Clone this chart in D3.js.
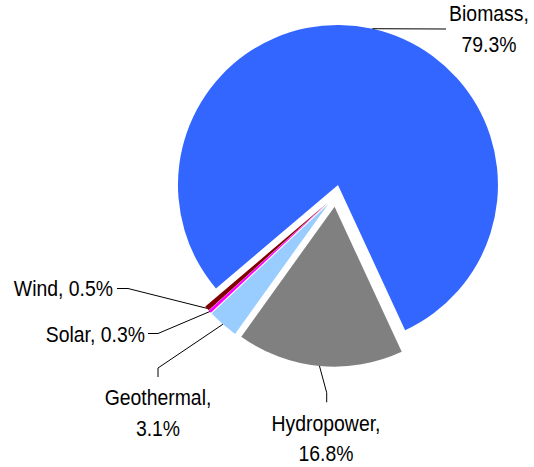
<!DOCTYPE html>
<html>
<head>
<meta charset="utf-8">
<script src="https://cdn.jsdelivr.net/npm/d3@7"></script>
<style>
  html, body { margin: 0; padding: 0; background: #fff; }
  svg { display: block; }
  text { font-family: "Liberation Sans", Arial, sans-serif; font-size: 19.4px; fill: #000; }
</style>
</head>
<body>
<svg id="chart" width="534" height="467"></svg>
<script>
// ---- data ----
const categories = ["Biomass", "Hydropower", "Geothermal", "Solar", "Wind"];
const shares = [79.3, 16.8, 3.1, 0.3, 0.5];
const valueLabels = ["79.3%", "16.8%", "3.1%", "0.3%", "0.5%"];

// ---- styles / layout (not data) ----
const colors = ["#3366FF", "#808080", "#99CCFF", "#FF00FF", "#800000"];
const cx = 335.6, cy = 195.7, R = 160, explode = 11;
const startDeg = 229.7;
const textStretchY = 1.14;

// label layout: leader path points after the arc point, text anchor, baselines
const layout = [
  { pts: [[446, 29]], anchor: "middle", x: 489, ys: [21, 52] },
  { pts: [[326.7, 392.7], [326.7, 402.3]], anchor: "middle", x: 326, ys: [431, 460.5] },
  { pts: [[158, 368], [158, 377]], anchor: "middle", x: 158, ys: [405, 436] },
  { pts: [[158, 333.5], [148, 333.5]], anchor: "end", x: 145, single: true, y: 342 },
  { pts: [[128, 288.5], [117, 288.5]], anchor: "end", x: 113, single: true, y: 296 }
];

const svg = d3.select("#chart");
const data = categories.map((c, i) => ({ name: c, value: shares[i], label: valueLabels[i], i }));

const pie = d3.pie().sort(null).value(d => d.value)
  .startAngle(startDeg * Math.PI / 180)
  .endAngle(startDeg * Math.PI / 180 + 2 * Math.PI);
const arcs = pie(data);
const arcGen = d3.arc().innerRadius(0).outerRadius(R);

function offset(a) {
  const m = (a.startAngle + a.endAngle) / 2;
  return [explode * Math.sin(m), -explode * Math.cos(m)];
}

const g = svg.append("g").attr("transform", `translate(${cx},${cy})`);
g.selectAll("path.slice").data(arcs).enter().append("path")
  .attr("class", "slice")
  .attr("d", arcGen)
  .attr("fill", (d, i) => colors[i])
  .attr("transform", d => { const o = offset(d); return `translate(${o[0]},${o[1]})`; });

// leader lines
arcs.forEach((a, i) => {
  const m = (a.startAngle + a.endAngle) / 2;
  const o = offset(a);
  const sx = cx + o[0] + R * Math.sin(m);
  const sy = cy + o[1] - R * Math.cos(m);
  const pts = [[sx, sy]].concat(layout[i].pts);
  svg.append("path")
    .attr("d", d3.line()(pts))
    .attr("fill", "none")
    .attr("stroke", "#000")
    .attr("stroke-width", 1);
});

function addText(x, y, anchor, str) {
  svg.append("text")
    .attr("transform", `translate(${x},${y}) scale(1,${textStretchY})`)
    .attr("text-anchor", anchor)
    .text(str);
}

// labels
arcs.forEach((a, i) => {
  const L = layout[i];
  const d = a.data;
  if (L.single) {
    addText(L.x, L.y, L.anchor, d.name + ", " + d.label);
  } else {
    addText(L.x, L.ys[0], L.anchor, d.name + ",");
    addText(L.x, L.ys[1], L.anchor, d.label);
  }
});
</script>
</body>
</html>
